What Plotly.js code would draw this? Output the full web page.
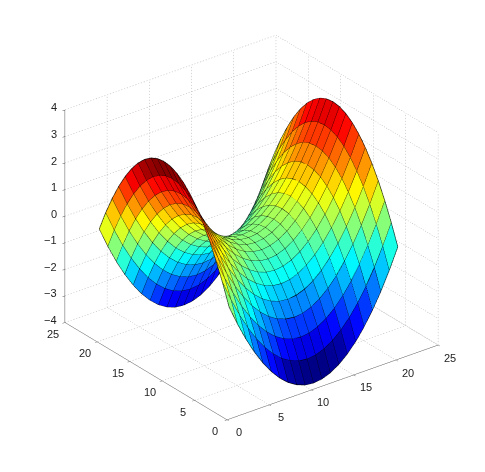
<!DOCTYPE html>
<html>
<head>
<meta charset="utf-8">
<script src="https://cdn.plot.ly/plotly-3.0.1.min.js"></script>
<style>html,body{margin:0;padding:0;background:#fff}#chart{width:485px;height:472px}</style>
</head>
<body>
<div id="chart"></div>
<script>
const gridX = [1,2,3,4,5,6,7,8,9,10,11,12,13,14,15,16,17,18,19,20,21];
const gridY = [1,2,3,4,5,6,7,8,9,10,11,12,13,14,15,16,17,18,19,20,21];
const surfaceZ = [
[0,-.76,-1.44,-2.04,-2.56,-3,-3.36,-3.64,-3.84,-3.96,-4,-3.96,-3.84,-3.64,-3.36,-3,-2.56,-2.04,-1.44,-.76,0],
[.76,0,-.68,-1.28,-1.8,-2.24,-2.6,-2.88,-3.08,-3.2,-3.24,-3.2,-3.08,-2.88,-2.6,-2.24,-1.8,-1.28,-.68,0,.76],
[1.44,.68,0,-.6,-1.12,-1.56,-1.92,-2.2,-2.4,-2.52,-2.56,-2.52,-2.4,-2.2,-1.92,-1.56,-1.12,-.6,0,.68,1.44],
[2.04,1.28,.6,0,-.52,-.96,-1.32,-1.6,-1.8,-1.92,-1.96,-1.92,-1.8,-1.6,-1.32,-.96,-.52,0,.6,1.28,2.04],
[2.56,1.8,1.12,.52,0,-.44,-.8,-1.08,-1.28,-1.4,-1.44,-1.4,-1.28,-1.08,-.8,-.44,0,.52,1.12,1.8,2.56],
[3,2.24,1.56,.96,.44,0,-.36,-.64,-.84,-.96,-1,-.96,-.84,-.64,-.36,0,.44,.96,1.56,2.24,3],
[3.36,2.6,1.92,1.32,.8,.36,0,-.28,-.48,-.6,-.64,-.6,-.48,-.28,0,.36,.8,1.32,1.92,2.6,3.36],
[3.64,2.88,2.2,1.6,1.08,.64,.28,0,-.2,-.32,-.36,-.32,-.2,0,.28,.64,1.08,1.6,2.2,2.88,3.64],
[3.84,3.08,2.4,1.8,1.28,.84,.48,.2,0,-.12,-.16,-.12,0,.2,.48,.84,1.28,1.8,2.4,3.08,3.84],
[3.96,3.2,2.52,1.92,1.4,.96,.6,.32,.12,0,-.04,0,.12,.32,.6,.96,1.4,1.92,2.52,3.2,3.96],
[4,3.24,2.56,1.96,1.44,1,.64,.36,.16,.04,0,.04,.16,.36,.64,1,1.44,1.96,2.56,3.24,4],
[3.96,3.2,2.52,1.92,1.4,.96,.6,.32,.12,0,-.04,0,.12,.32,.6,.96,1.4,1.92,2.52,3.2,3.96],
[3.84,3.08,2.4,1.8,1.28,.84,.48,.2,0,-.12,-.16,-.12,0,.2,.48,.84,1.28,1.8,2.4,3.08,3.84],
[3.64,2.88,2.2,1.6,1.08,.64,.28,0,-.2,-.32,-.36,-.32,-.2,0,.28,.64,1.08,1.6,2.2,2.88,3.64],
[3.36,2.6,1.92,1.32,.8,.36,0,-.28,-.48,-.6,-.64,-.6,-.48,-.28,0,.36,.8,1.32,1.92,2.6,3.36],
[3,2.24,1.56,.96,.44,0,-.36,-.64,-.84,-.96,-1,-.96,-.84,-.64,-.36,0,.44,.96,1.56,2.24,3],
[2.56,1.8,1.12,.52,0,-.44,-.8,-1.08,-1.28,-1.4,-1.44,-1.4,-1.28,-1.08,-.8,-.44,0,.52,1.12,1.8,2.56],
[2.04,1.28,.6,0,-.52,-.96,-1.32,-1.6,-1.8,-1.92,-1.96,-1.92,-1.8,-1.6,-1.32,-.96,-.52,0,.6,1.28,2.04],
[1.44,.68,0,-.6,-1.12,-1.56,-1.92,-2.2,-2.4,-2.52,-2.56,-2.52,-2.4,-2.2,-1.92,-1.56,-1.12,-.6,0,.68,1.44],
[.76,0,-.68,-1.28,-1.8,-2.24,-2.6,-2.88,-3.08,-3.2,-3.24,-3.2,-3.08,-2.88,-2.6,-2.24,-1.8,-1.28,-.68,0,.76],
[0,-.76,-1.44,-2.04,-2.56,-3,-3.36,-3.64,-3.84,-3.96,-4,-3.96,-3.84,-3.64,-3.36,-3,-2.56,-2.04,-1.44,-.76,0]
];
const xyTicks = [0,5,10,15,20,25];
const zTicks = [-4,-3,-2,-1,0,1,2,3,4];
const zLabels = ['\u22124','\u22123','\u22122','\u22121','0','1','2','3','4'];

const XYMAX = 25, ZMIN = -4, ZMAX = 4;

function jet(v){ // MATLAB jet, 64 levels, v mapped over [ZMIN,ZMAX]
  const n = 64, idx = Math.min(n-1, Math.floor((v-ZMIN)/(ZMAX-ZMIN)*n));
  const t = (idx+0.5)/n;
  const ch = c => Math.round(255*Math.max(0,Math.min(1,1.5-Math.abs(4*t-c))));
  return `rgb(${ch(3)},${ch(2)},${ch(1)})`;
}

// facets
const vx=[],vy=[],vz=[],ti=[],tj=[],tk=[],fc=[];
const nx=gridX.length, ny=gridY.length;
gridY.forEach((y,j)=>gridX.forEach((x,i)=>{vx.push(x);vy.push(y);vz.push(surfaceZ[j][i]);}));
for(let j=0;j<ny-1;j++)for(let i=0;i<nx-1;i++){
  const a=j*nx+i,b=a+1,c=a+nx,d=c+1,col=jet(surfaceZ[j][i]);
  ti.push(a,a);tj.push(b,d);tk.push(d,c);fc.push(col,col);
}
const facets={type:'mesh3d',x:vx,y:vy,z:vz,i:ti,j:tj,k:tk,facecolor:fc,flatshading:true,
  lighting:{ambient:1,diffuse:0,specular:0,roughness:1,fresnel:0},hoverinfo:'skip',showscale:false};

// mesh lines
const lx=[],ly=[],lz=[];
for(let j=0;j<ny;j++){for(let i=0;i<nx;i++){lx.push(gridX[i]);ly.push(gridY[j]);lz.push(surfaceZ[j][i]);}lx.push(null);ly.push(null);lz.push(null);}
for(let i=0;i<nx;i++){for(let j=0;j<ny;j++){lx.push(gridX[i]);ly.push(gridY[j]);lz.push(surfaceZ[j][i]);}lx.push(null);ly.push(null);lz.push(null);}
const meshLines={type:'scatter3d',mode:'lines',x:lx,y:ly,z:lz,line:{color:'#000',width:1.3},hoverinfo:'skip',showlegend:false};

// dotted grid on floor and back walls: each guide is broken into short strokes
const gx=[],gy=[],gz=[];
function seg(p,q){
  const dx=q[0]-p[0],dy=q[1]-p[1],dz=q[2]-p[2];
  const pxLen=Math.hypot(dx,dy)*9+Math.abs(dz)*26.75, n=Math.round(pxLen/3);
  for(let s=0;s<n;s++){
    const a=s/n,b=(s+0.4)/n;
    gx.push(p[0]+dx*a,p[0]+dx*b,null);gy.push(p[1]+dy*a,p[1]+dy*b,null);gz.push(p[2]+dz*a,p[2]+dz*b,null);
  }
}
xyTicks.forEach(t=>{
  seg([t,0,ZMIN],[t,XYMAX,ZMIN]);seg([t,XYMAX,ZMIN],[t,XYMAX,ZMAX]);
  seg([0,t,ZMIN],[XYMAX,t,ZMIN]);seg([XYMAX,t,ZMIN],[XYMAX,t,ZMAX]);
});
zTicks.forEach(t=>{seg([0,XYMAX,t],[XYMAX,XYMAX,t]);seg([XYMAX,XYMAX,t],[XYMAX,0,t]);});
const gridLines={type:'scatter3d',mode:'lines',x:gx,y:gy,z:gz,line:{color:'#b0b0b0',width:1},hoverinfo:'skip',showlegend:false};

const lblFont={family:'"Liberation Sans",Arial,sans-serif',size:11,color:'#222'};
const ann=[];
function lab(x,y,z,text,xs,ys,anchor){ann.push({x,y,z,text,showarrow:false,xshift:xs,yshift:ys,xanchor:anchor||'center',yanchor:'middle',font:lblFont});}
xyTicks.forEach(t=>{lab(t,0,ZMIN,String(t),12,-12);lab(0,t,ZMIN,String(t),-12,-11);});
zTicks.forEach((t,n)=>lab(0,XYMAX,t,zLabels[n],-6,3,'right'));

const axisBase={showgrid:false,zeroline:false,showline:true,linecolor:'#555',linewidth:1,showbackground:false,
  ticks:'outside',ticklen:3,tickcolor:'#555',showticklabels:false,showspikes:false,title:{text:''}};
const layout={
  width:485,height:472,margin:{l:0,r:0,t:0,b:0},paper_bgcolor:'#fff',showlegend:false,
  scene:{
    domain:{x:[0.037,1.002],y:[0.037,0.997]},
    aspectmode:'manual',aspectratio:{x:1.175,y:1.175,z:1.0575},
    camera:{projection:{type:'orthographic'},up:{x:0,y:0,z:1},center:{x:0,y:0,z:0},
      eye:{x:-0.609*0.887*1.9,y:-0.793*0.887*1.9,z:0.461*1.9}},
    xaxis:Object.assign({},axisBase,{range:[0,XYMAX],tickvals:xyTicks}),
    yaxis:Object.assign({},axisBase,{range:[0,XYMAX],tickvals:xyTicks}),
    zaxis:Object.assign({},axisBase,{range:[ZMIN,ZMAX],tickvals:zTicks}),
    annotations:ann
  }
};
Plotly.newPlot('chart',[gridLines,facets,meshLines],layout,{displayModeBar:false,staticPlot:false});
</script>
</body>
</html>
